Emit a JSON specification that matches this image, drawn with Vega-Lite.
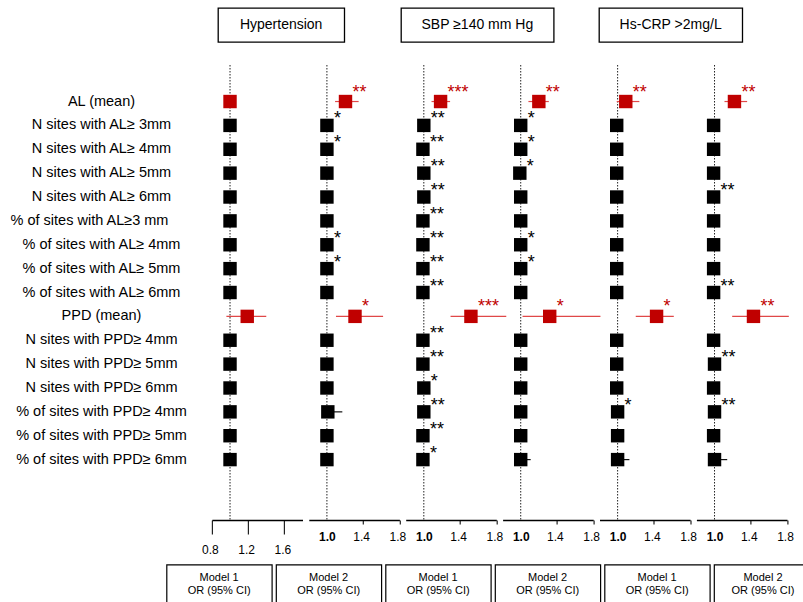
{
  "$schema": "https://vega.github.io/schema/vega-lite/v6.json",
  "padding": {"left": 0, "top": 7, "right": 0, "bottom": 0},
  "background": "white",
  "config": {
    "view": {"stroke": null},
    "font": "Liberation Sans",
    "text": {"font": "Liberation Sans"},
    "axis": {"labelFont": "Liberation Sans", "titleFont": "Liberation Sans"}
  },
  "datasets": {
    "or": [
      {"p":1,"r":"AL (mean)","k":"mean","or":1.0,"lo":0.995,"hi":1.005,"s":""},
      {"p":1,"r":"N sites with AL≥ 3mm","k":"count","or":1.0,"lo":0.99,"hi":1.01,"s":""},
      {"p":1,"r":"N sites with AL≥ 4mm","k":"count","or":1.0,"lo":0.99,"hi":1.01,"s":""},
      {"p":1,"r":"N sites with AL≥ 5mm","k":"count","or":1.0,"lo":0.99,"hi":1.01,"s":""},
      {"p":1,"r":"N sites with AL≥ 6mm","k":"count","or":1.0,"lo":0.99,"hi":1.01,"s":""},
      {"p":1,"r":"% of sites with AL≥3 mm","k":"count","or":1.0,"lo":0.99,"hi":1.01,"s":""},
      {"p":1,"r":"% of sites with AL≥ 4mm","k":"count","or":1.0,"lo":0.99,"hi":1.01,"s":""},
      {"p":1,"r":"% of sites with AL≥ 5mm","k":"count","or":1.0,"lo":0.99,"hi":1.01,"s":""},
      {"p":1,"r":"% of sites with AL≥ 6mm","k":"count","or":1.0,"lo":0.99,"hi":1.01,"s":""},
      {"p":1,"r":"PPD (mean)","k":"mean","or":1.19,"lo":0.96,"hi":1.4,"s":""},
      {"p":1,"r":"N sites with PPD≥ 4mm","k":"count","or":1.0,"lo":0.99,"hi":1.01,"s":""},
      {"p":1,"r":"N sites with PPD≥ 5mm","k":"count","or":1.0,"lo":0.99,"hi":1.01,"s":""},
      {"p":1,"r":"N sites with PPD≥ 6mm","k":"count","or":1.0,"lo":0.99,"hi":1.01,"s":""},
      {"p":1,"r":"% of sites with PPD≥ 4mm","k":"count","or":1.0,"lo":0.99,"hi":1.01,"s":""},
      {"p":1,"r":"% of sites with PPD≥ 5mm","k":"count","or":1.0,"lo":0.99,"hi":1.01,"s":""},
      {"p":1,"r":"% of sites with PPD≥ 6mm","k":"count","or":1.0,"lo":0.99,"hi":1.01,"s":""},

      {"p":2,"r":"AL (mean)","k":"mean","or":1.205,"lo":1.09,"hi":1.35,"s":"**"},
      {"p":2,"r":"N sites with AL≥ 3mm","k":"count","or":1.0,"lo":0.99,"hi":1.01,"s":"*"},
      {"p":2,"r":"N sites with AL≥ 4mm","k":"count","or":1.0,"lo":0.99,"hi":1.01,"s":"*"},
      {"p":2,"r":"N sites with AL≥ 5mm","k":"count","or":1.0,"lo":0.99,"hi":1.01,"s":""},
      {"p":2,"r":"N sites with AL≥ 6mm","k":"count","or":1.0,"lo":0.99,"hi":1.01,"s":""},
      {"p":2,"r":"% of sites with AL≥3 mm","k":"count","or":1.0,"lo":0.99,"hi":1.01,"s":""},
      {"p":2,"r":"% of sites with AL≥ 4mm","k":"count","or":1.0,"lo":0.99,"hi":1.01,"s":"*"},
      {"p":2,"r":"% of sites with AL≥ 5mm","k":"count","or":1.0,"lo":0.99,"hi":1.01,"s":"*"},
      {"p":2,"r":"% of sites with AL≥ 6mm","k":"count","or":1.0,"lo":0.99,"hi":1.01,"s":""},
      {"p":2,"r":"PPD (mean)","k":"mean","or":1.31,"lo":1.1,"hi":1.62,"s":"*"},
      {"p":2,"r":"N sites with PPD≥ 4mm","k":"count","or":1.0,"lo":0.99,"hi":1.01,"s":""},
      {"p":2,"r":"N sites with PPD≥ 5mm","k":"count","or":1.0,"lo":0.99,"hi":1.01,"s":""},
      {"p":2,"r":"N sites with PPD≥ 6mm","k":"count","or":1.0,"lo":0.99,"hi":1.01,"s":""},
      {"p":2,"r":"% of sites with PPD≥ 4mm","k":"count","or":1.01,"lo":0.97,"hi":1.17,"s":""},
      {"p":2,"r":"% of sites with PPD≥ 5mm","k":"count","or":1.0,"lo":0.99,"hi":1.01,"s":""},
      {"p":2,"r":"% of sites with PPD≥ 6mm","k":"count","or":1.0,"lo":0.99,"hi":1.01,"s":""},

      {"p":3,"r":"AL (mean)","k":"mean","or":1.185,"lo":1.085,"hi":1.29,"s":"***"},
      {"p":3,"r":"N sites with AL≥ 3mm","k":"count","or":1.0,"lo":0.99,"hi":1.01,"s":"**"},
      {"p":3,"r":"N sites with AL≥ 4mm","k":"count","or":0.99,"lo":0.98,"hi":1.0,"s":"**"},
      {"p":3,"r":"N sites with AL≥ 5mm","k":"count","or":1.0,"lo":0.99,"hi":1.01,"s":"**"},
      {"p":3,"r":"N sites with AL≥ 6mm","k":"count","or":1.0,"lo":0.99,"hi":1.01,"s":"**"},
      {"p":3,"r":"% of sites with AL≥3 mm","k":"count","or":0.99,"lo":0.98,"hi":1.0,"s":"**"},
      {"p":3,"r":"% of sites with AL≥ 4mm","k":"count","or":0.99,"lo":0.98,"hi":1.0,"s":"**"},
      {"p":3,"r":"% of sites with AL≥ 5mm","k":"count","or":0.99,"lo":0.98,"hi":1.0,"s":"**"},
      {"p":3,"r":"% of sites with AL≥ 6mm","k":"count","or":0.99,"lo":0.98,"hi":1.0,"s":"**"},
      {"p":3,"r":"PPD (mean)","k":"mean","or":1.52,"lo":1.295,"hi":1.91,"s":"***"},
      {"p":3,"r":"N sites with PPD≥ 4mm","k":"count","or":0.99,"lo":0.98,"hi":1.0,"s":"**"},
      {"p":3,"r":"N sites with PPD≥ 5mm","k":"count","or":0.99,"lo":0.98,"hi":1.0,"s":"**"},
      {"p":3,"r":"N sites with PPD≥ 6mm","k":"count","or":1.0,"lo":0.99,"hi":1.01,"s":"*"},
      {"p":3,"r":"% of sites with PPD≥ 4mm","k":"count","or":1.0,"lo":0.99,"hi":1.01,"s":"**"},
      {"p":3,"r":"% of sites with PPD≥ 5mm","k":"count","or":0.99,"lo":0.98,"hi":1.0,"s":"**"},
      {"p":3,"r":"% of sites with PPD≥ 6mm","k":"count","or":0.99,"lo":0.98,"hi":1.0,"s":"*"},

      {"p":4,"r":"AL (mean)","k":"mean","or":1.2,"lo":1.085,"hi":1.31,"s":"**"},
      {"p":4,"r":"N sites with AL≥ 3mm","k":"count","or":1.0,"lo":0.99,"hi":1.01,"s":"*"},
      {"p":4,"r":"N sites with AL≥ 4mm","k":"count","or":1.0,"lo":0.99,"hi":1.01,"s":"*"},
      {"p":4,"r":"N sites with AL≥ 5mm","k":"count","or":0.99,"lo":0.98,"hi":1.0,"s":"*"},
      {"p":4,"r":"N sites with AL≥ 6mm","k":"count","or":1.0,"lo":0.99,"hi":1.01,"s":""},
      {"p":4,"r":"% of sites with AL≥3 mm","k":"count","or":1.0,"lo":0.99,"hi":1.01,"s":""},
      {"p":4,"r":"% of sites with AL≥ 4mm","k":"count","or":1.0,"lo":0.99,"hi":1.01,"s":"*"},
      {"p":4,"r":"% of sites with AL≥ 5mm","k":"count","or":1.0,"lo":0.99,"hi":1.01,"s":"*"},
      {"p":4,"r":"% of sites with AL≥ 6mm","k":"count","or":1.0,"lo":0.99,"hi":1.01,"s":""},
      {"p":4,"r":"PPD (mean)","k":"mean","or":1.32,"lo":1.02,"hi":1.88,"s":"*"},
      {"p":4,"r":"N sites with PPD≥ 4mm","k":"count","or":1.0,"lo":0.99,"hi":1.01,"s":""},
      {"p":4,"r":"N sites with PPD≥ 5mm","k":"count","or":1.0,"lo":0.99,"hi":1.01,"s":""},
      {"p":4,"r":"N sites with PPD≥ 6mm","k":"count","or":1.0,"lo":0.99,"hi":1.01,"s":""},
      {"p":4,"r":"% of sites with PPD≥ 4mm","k":"count","or":1.0,"lo":0.99,"hi":1.01,"s":""},
      {"p":4,"r":"% of sites with PPD≥ 5mm","k":"count","or":1.0,"lo":0.99,"hi":1.01,"s":""},
      {"p":4,"r":"% of sites with PPD≥ 6mm","k":"count","or":1.0,"lo":0.97,"hi":1.11,"s":""},

      {"p":5,"r":"AL (mean)","k":"mean","or":1.09,"lo":0.99,"hi":1.24,"s":"**"},
      {"p":5,"r":"N sites with AL≥ 3mm","k":"count","or":0.99,"lo":0.98,"hi":1.0,"s":""},
      {"p":5,"r":"N sites with AL≥ 4mm","k":"count","or":0.99,"lo":0.98,"hi":1.0,"s":""},
      {"p":5,"r":"N sites with AL≥ 5mm","k":"count","or":0.99,"lo":0.98,"hi":1.0,"s":""},
      {"p":5,"r":"N sites with AL≥ 6mm","k":"count","or":0.99,"lo":0.98,"hi":1.0,"s":""},
      {"p":5,"r":"% of sites with AL≥3 mm","k":"count","or":0.99,"lo":0.98,"hi":1.0,"s":""},
      {"p":5,"r":"% of sites with AL≥ 4mm","k":"count","or":0.99,"lo":0.98,"hi":1.0,"s":""},
      {"p":5,"r":"% of sites with AL≥ 5mm","k":"count","or":0.99,"lo":0.98,"hi":1.0,"s":""},
      {"p":5,"r":"% of sites with AL≥ 6mm","k":"count","or":0.99,"lo":0.98,"hi":1.0,"s":""},
      {"p":5,"r":"PPD (mean)","k":"mean","or":1.43,"lo":1.2,"hi":1.62,"s":"*"},
      {"p":5,"r":"N sites with PPD≥ 4mm","k":"count","or":0.99,"lo":0.98,"hi":1.0,"s":""},
      {"p":5,"r":"N sites with PPD≥ 5mm","k":"count","or":0.99,"lo":0.98,"hi":1.0,"s":""},
      {"p":5,"r":"N sites with PPD≥ 6mm","k":"count","or":0.99,"lo":0.98,"hi":1.0,"s":""},
      {"p":5,"r":"% of sites with PPD≥ 4mm","k":"count","or":1.0,"lo":0.99,"hi":1.01,"s":"*"},
      {"p":5,"r":"% of sites with PPD≥ 5mm","k":"count","or":1.0,"lo":0.99,"hi":1.01,"s":""},
      {"p":5,"r":"% of sites with PPD≥ 6mm","k":"count","or":1.0,"lo":0.96,"hi":1.13,"s":""},

      {"p":6,"r":"AL (mean)","k":"mean","or":1.22,"lo":1.11,"hi":1.36,"s":"**"},
      {"p":6,"r":"N sites with AL≥ 3mm","k":"count","or":0.99,"lo":0.98,"hi":1.0,"s":""},
      {"p":6,"r":"N sites with AL≥ 4mm","k":"count","or":0.99,"lo":0.98,"hi":1.0,"s":""},
      {"p":6,"r":"N sites with AL≥ 5mm","k":"count","or":0.99,"lo":0.98,"hi":1.0,"s":""},
      {"p":6,"r":"N sites with AL≥ 6mm","k":"count","or":0.99,"lo":0.98,"hi":1.0,"s":"**"},
      {"p":6,"r":"% of sites with AL≥3 mm","k":"count","or":0.99,"lo":0.98,"hi":1.0,"s":""},
      {"p":6,"r":"% of sites with AL≥ 4mm","k":"count","or":0.99,"lo":0.98,"hi":1.0,"s":""},
      {"p":6,"r":"% of sites with AL≥ 5mm","k":"count","or":0.99,"lo":0.98,"hi":1.0,"s":""},
      {"p":6,"r":"% of sites with AL≥ 6mm","k":"count","or":0.99,"lo":0.98,"hi":1.0,"s":"**"},
      {"p":6,"r":"PPD (mean)","k":"mean","or":1.43,"lo":1.195,"hi":1.82,"s":"**"},
      {"p":6,"r":"N sites with PPD≥ 4mm","k":"count","or":0.99,"lo":0.98,"hi":1.0,"s":""},
      {"p":6,"r":"N sites with PPD≥ 5mm","k":"count","or":1.0,"lo":0.99,"hi":1.01,"s":"**"},
      {"p":6,"r":"N sites with PPD≥ 6mm","k":"count","or":0.99,"lo":0.98,"hi":1.0,"s":""},
      {"p":6,"r":"% of sites with PPD≥ 4mm","k":"count","or":1.0,"lo":0.99,"hi":1.01,"s":"**"},
      {"p":6,"r":"% of sites with PPD≥ 5mm","k":"count","or":0.99,"lo":0.98,"hi":1.0,"s":""},
      {"p":6,"r":"% of sites with PPD≥ 6mm","k":"count","or":1.0,"lo":0.96,"hi":1.14,"s":""}
    ]
  },
  "vconcat": [
    {
      "spacing": 0,
      "hconcat": [
        {"width": 217, "height": 34, "data": {"values": []}, "mark": "text", "encoding": {}},
        {"width": 126.3, "height": 34, "view": {"stroke": "#000", "strokeWidth": 1.3},
         "data": {"values": [{"t": "Hypertension"}]},
         "mark": {"type": "text", "fontSize": 14, "color": "#000"},
         "encoding": {"text": {"field": "t"}}},
        {"width": 54.7, "height": 34, "data": {"values": []}, "mark": "text", "encoding": {}},
        {"width": 152.7, "height": 34, "view": {"stroke": "#000", "strokeWidth": 1.3},
         "data": {"values": [{"t": "SBP ≥140 mm Hg"}]},
         "mark": {"type": "text", "fontSize": 14, "color": "#000"},
         "encoding": {"text": {"field": "t"}}},
        {"width": 43, "height": 34, "data": {"values": []}, "mark": "text", "encoding": {}},
        {"width": 143.3, "height": 34, "view": {"stroke": "#000", "strokeWidth": 1.3},
         "data": {"values": [{"t": "Hs-CRP >2mg/L"}]},
         "mark": {"type": "text", "fontSize": 14, "color": "#000"},
         "encoding": {"text": {"field": "t"}}}
      ]
    },
    {
      "spacing": 7.6,
      "vconcat": [
        {
          "spacing": 5.9,
          "bounds": "flush",
          "hconcat": [
            {"width": 206, "height": 455, "data": {"name": "or"}, "transform": [{"filter": "datum.p == 1"}],
             "encoding": {
               "y": {"field": "r", "type": "nominal",
                 "scale": {"type": "point", "padding": 0.53, "domain": ["pad-top","AL (mean)","N sites with AL≥ 3mm","N sites with AL≥ 4mm","N sites with AL≥ 5mm","N sites with AL≥ 6mm","% of sites with AL≥3 mm","% of sites with AL≥ 4mm","% of sites with AL≥ 5mm","% of sites with AL≥ 6mm","PPD (mean)","N sites with PPD≥ 4mm","N sites with PPD≥ 5mm","N sites with PPD≥ 6mm","% of sites with PPD≥ 4mm","% of sites with PPD≥ 5mm","% of sites with PPD≥ 6mm","pad-bottom-1","pad-bottom-2"]},
                 "axis": null},
               "text": {"field": "r"}
             },
             "layer": [
               {"transform": [{"filter": "datum.r != '% of sites with AL≥3 mm'"}], "mark": {"type": "text", "fontSize": 14.5, "dx": -1.5, "color": "#000", "align": "center", "baseline": "middle"}},
               {"transform": [{"filter": "datum.r == '% of sites with AL≥3 mm'"}], "mark": {"type": "text", "fontSize": 14.5, "dx": -13.5, "color": "#000", "align": "center", "baseline": "middle"}}
             ]},
            {"width": 90.6, "height": 455, "layer": [
              {"data": {"values": [{}]}, "mark": {"type": "rule", "strokeDash": [1.5, 1.5], "color": "#222", "strokeWidth": 1}, "encoding": {"x": {"datum": 1}}},
              {"data": {"name": "or"}, "transform": [{"filter": "datum.p == 1"}],
               "encoding": {
                 "y": {"field": "r", "type": "nominal",
                   "scale": {"type": "point", "padding": 0.53, "domain": ["pad-top","AL (mean)","N sites with AL≥ 3mm","N sites with AL≥ 4mm","N sites with AL≥ 5mm","N sites with AL≥ 6mm","% of sites with AL≥3 mm","% of sites with AL≥ 4mm","% of sites with AL≥ 5mm","% of sites with AL≥ 6mm","PPD (mean)","N sites with PPD≥ 4mm","N sites with PPD≥ 5mm","N sites with PPD≥ 6mm","% of sites with PPD≥ 4mm","% of sites with PPD≥ 5mm","% of sites with PPD≥ 6mm","pad-bottom-1","pad-bottom-2"]},
                   "axis": null},
                 "x": {"field": "or", "type": "quantitative", "scale": {"domain": [0.8, 1.8], "nice": false, "zero": false},
                   "axis": {"title": null, "values": [0.8, 1, 1.2, 1.4, 1.6, 1.8], "format": ".1f", "grid": false,
                     "domainColor": "#000", "domainWidth": 1.5, "tickColor": "#222", "tickWidth": 1.2,
                     "labelFontSize": 12, "labelColor": "#000", "labelFlush": false, "labelOverlap": false, "labelBound": false,
                     "tickSize": {"condition": {"test": "indexof([0.8,1.2,1.6], datum.value) >= 0", "value": 14}, "value": 4},
                     "tickOpacity": {"condition": {"test": "datum.value == 1", "value": 0}, "value": 1},
                     "labelPadding": {"condition": {"test": "indexof([0.8,1.2,1.6], datum.value) >= 0", "value": 10.4}, "value": 7.4},
                     "labelOffset": {"condition": {"test": "datum.value == 1", "value": 0}, "value": -2},
                     "labelFontWeight": {"condition": {"test": "datum.value == 1", "value": "bold"}, "value": "normal"}}}
               },
               "layer": [
                 {"mark": {"type": "rule", "strokeWidth": 1.2}, "encoding": {"x": {"field": "lo", "type": "quantitative", "title": null}, "x2": {"field": "hi"}, "stroke": {"field": "k", "type": "nominal", "scale": {"domain": ["mean","count"], "range": ["#e04848","#111111"]}, "legend": null}}},
                 {"mark": {"type": "square", "size": 180, "opacity": 1}, "encoding": {"color": {"field": "k", "type": "nominal", "scale": {"domain": ["mean","count"], "range": ["#c00000","#000000"]}, "legend": null}}},
                 {"transform": [{"filter": "datum.s != '' && datum.k == 'count'"}], "mark": {"type": "text", "align": "left", "baseline": "alphabetic", "dx": 7, "dy": -1, "fontSize": 18}, "encoding": {"text": {"field": "s"}, "color": {"field": "k", "type": "nominal", "scale": {"domain": ["mean","count"], "range": ["#c00000","#000000"]}, "legend": null}}},
                 {"transform": [{"filter": "datum.s != '' && datum.k == 'mean'"}], "mark": {"type": "text", "align": "left", "baseline": "alphabetic", "dx": 7, "dy": -4, "fontSize": 18}, "encoding": {"text": {"field": "s"}, "color": {"field": "k", "type": "nominal", "scale": {"domain": ["mean","count"], "range": ["#c00000","#000000"]}, "legend": null}}}
               ]}
            ]},
            {"width": 90.6, "height": 455, "layer": [
              {"data": {"values": [{}]}, "mark": {"type": "rule", "strokeDash": [1.5, 1.5], "color": "#222", "strokeWidth": 1}, "encoding": {"x": {"datum": 1}}},
              {"data": {"name": "or"}, "transform": [{"filter": "datum.p == 2"}],
               "encoding": {
                 "y": {"field": "r", "type": "nominal",
                   "scale": {"type": "point", "padding": 0.53, "domain": ["pad-top","AL (mean)","N sites with AL≥ 3mm","N sites with AL≥ 4mm","N sites with AL≥ 5mm","N sites with AL≥ 6mm","% of sites with AL≥3 mm","% of sites with AL≥ 4mm","% of sites with AL≥ 5mm","% of sites with AL≥ 6mm","PPD (mean)","N sites with PPD≥ 4mm","N sites with PPD≥ 5mm","N sites with PPD≥ 6mm","% of sites with PPD≥ 4mm","% of sites with PPD≥ 5mm","% of sites with PPD≥ 6mm","pad-bottom-1","pad-bottom-2"]},
                   "axis": null},
                 "x": {"field": "or", "type": "quantitative", "scale": {"domain": [0.8, 1.8], "nice": false, "zero": false},
                   "axis": {"title": null, "values": [1, 1.2, 1.4, 1.6, 1.8], "format": ".1f", "grid": false,
                     "domainColor": "#000", "domainWidth": 1.5, "tickColor": "#222", "tickWidth": 1.2,
                     "labelFontSize": 12, "labelColor": "#000", "labelFlush": false, "labelOverlap": false, "labelBound": false,
                     "tickSize": {"condition": {"test": "indexof([0.8,1.2,1.6], datum.value) >= 0", "value": 14}, "value": 4},
                     "tickOpacity": {"condition": {"test": "datum.value == 1", "value": 0}, "value": 1},
                     "labelPadding": {"condition": {"test": "indexof([0.8,1.2,1.6], datum.value) >= 0", "value": 10.4}, "value": 7.4},
                     "labelOffset": {"condition": {"test": "datum.value == 1", "value": 0}, "value": -2},
                     "labelFontWeight": {"condition": {"test": "datum.value == 1", "value": "bold"}, "value": "normal"}}}
               },
               "layer": [
                 {"mark": {"type": "rule", "strokeWidth": 1.2}, "encoding": {"x": {"field": "lo", "type": "quantitative", "title": null}, "x2": {"field": "hi"}, "stroke": {"field": "k", "type": "nominal", "scale": {"domain": ["mean","count"], "range": ["#e04848","#111111"]}, "legend": null}}},
                 {"mark": {"type": "square", "size": 180, "opacity": 1}, "encoding": {"color": {"field": "k", "type": "nominal", "scale": {"domain": ["mean","count"], "range": ["#c00000","#000000"]}, "legend": null}}},
                 {"transform": [{"filter": "datum.s != '' && datum.k == 'count'"}], "mark": {"type": "text", "align": "left", "baseline": "alphabetic", "dx": 7, "dy": -1, "fontSize": 18}, "encoding": {"text": {"field": "s"}, "color": {"field": "k", "type": "nominal", "scale": {"domain": ["mean","count"], "range": ["#c00000","#000000"]}, "legend": null}}},
                 {"transform": [{"filter": "datum.s != '' && datum.k == 'mean'"}], "mark": {"type": "text", "align": "left", "baseline": "alphabetic", "dx": 7, "dy": -4, "fontSize": 18}, "encoding": {"text": {"field": "s"}, "color": {"field": "k", "type": "nominal", "scale": {"domain": ["mean","count"], "range": ["#c00000","#000000"]}, "legend": null}}}
               ]}
            ]},
            {"width": 90.6, "height": 455, "layer": [
              {"data": {"values": [{}]}, "mark": {"type": "rule", "strokeDash": [1.5, 1.5], "color": "#222", "strokeWidth": 1}, "encoding": {"x": {"datum": 1}}},
              {"data": {"name": "or"}, "transform": [{"filter": "datum.p == 3"}],
               "encoding": {
                 "y": {"field": "r", "type": "nominal",
                   "scale": {"type": "point", "padding": 0.53, "domain": ["pad-top","AL (mean)","N sites with AL≥ 3mm","N sites with AL≥ 4mm","N sites with AL≥ 5mm","N sites with AL≥ 6mm","% of sites with AL≥3 mm","% of sites with AL≥ 4mm","% of sites with AL≥ 5mm","% of sites with AL≥ 6mm","PPD (mean)","N sites with PPD≥ 4mm","N sites with PPD≥ 5mm","N sites with PPD≥ 6mm","% of sites with PPD≥ 4mm","% of sites with PPD≥ 5mm","% of sites with PPD≥ 6mm","pad-bottom-1","pad-bottom-2"]},
                   "axis": null},
                 "x": {"field": "or", "type": "quantitative", "scale": {"domain": [0.8, 1.8], "nice": false, "zero": false},
                   "axis": {"title": null, "values": [1, 1.2, 1.4, 1.6, 1.8], "format": ".1f", "grid": false,
                     "domainColor": "#000", "domainWidth": 1.5, "tickColor": "#222", "tickWidth": 1.2,
                     "labelFontSize": 12, "labelColor": "#000", "labelFlush": false, "labelOverlap": false, "labelBound": false,
                     "tickSize": {"condition": {"test": "indexof([0.8,1.2,1.6], datum.value) >= 0", "value": 14}, "value": 4},
                     "tickOpacity": {"condition": {"test": "datum.value == 1", "value": 0}, "value": 1},
                     "labelPadding": {"condition": {"test": "indexof([0.8,1.2,1.6], datum.value) >= 0", "value": 10.4}, "value": 7.4},
                     "labelOffset": {"condition": {"test": "datum.value == 1", "value": 0}, "value": -2},
                     "labelFontWeight": {"condition": {"test": "datum.value == 1", "value": "bold"}, "value": "normal"}}}
               },
               "layer": [
                 {"mark": {"type": "rule", "strokeWidth": 1.2}, "encoding": {"x": {"field": "lo", "type": "quantitative", "title": null}, "x2": {"field": "hi"}, "stroke": {"field": "k", "type": "nominal", "scale": {"domain": ["mean","count"], "range": ["#e04848","#111111"]}, "legend": null}}},
                 {"mark": {"type": "square", "size": 180, "opacity": 1}, "encoding": {"color": {"field": "k", "type": "nominal", "scale": {"domain": ["mean","count"], "range": ["#c00000","#000000"]}, "legend": null}}},
                 {"transform": [{"filter": "datum.s != '' && datum.k == 'count'"}], "mark": {"type": "text", "align": "left", "baseline": "alphabetic", "dx": 7, "dy": -1, "fontSize": 18}, "encoding": {"text": {"field": "s"}, "color": {"field": "k", "type": "nominal", "scale": {"domain": ["mean","count"], "range": ["#c00000","#000000"]}, "legend": null}}},
                 {"transform": [{"filter": "datum.s != '' && datum.k == 'mean'"}], "mark": {"type": "text", "align": "left", "baseline": "alphabetic", "dx": 7, "dy": -4, "fontSize": 18}, "encoding": {"text": {"field": "s"}, "color": {"field": "k", "type": "nominal", "scale": {"domain": ["mean","count"], "range": ["#c00000","#000000"]}, "legend": null}}}
               ]}
            ]},
            {"width": 90.6, "height": 455, "layer": [
              {"data": {"values": [{}]}, "mark": {"type": "rule", "strokeDash": [1.5, 1.5], "color": "#222", "strokeWidth": 1}, "encoding": {"x": {"datum": 1}}},
              {"data": {"name": "or"}, "transform": [{"filter": "datum.p == 4"}],
               "encoding": {
                 "y": {"field": "r", "type": "nominal",
                   "scale": {"type": "point", "padding": 0.53, "domain": ["pad-top","AL (mean)","N sites with AL≥ 3mm","N sites with AL≥ 4mm","N sites with AL≥ 5mm","N sites with AL≥ 6mm","% of sites with AL≥3 mm","% of sites with AL≥ 4mm","% of sites with AL≥ 5mm","% of sites with AL≥ 6mm","PPD (mean)","N sites with PPD≥ 4mm","N sites with PPD≥ 5mm","N sites with PPD≥ 6mm","% of sites with PPD≥ 4mm","% of sites with PPD≥ 5mm","% of sites with PPD≥ 6mm","pad-bottom-1","pad-bottom-2"]},
                   "axis": null},
                 "x": {"field": "or", "type": "quantitative", "scale": {"domain": [0.8, 1.8], "nice": false, "zero": false},
                   "axis": {"title": null, "values": [1, 1.2, 1.4, 1.6, 1.8], "format": ".1f", "grid": false,
                     "domainColor": "#000", "domainWidth": 1.5, "tickColor": "#222", "tickWidth": 1.2,
                     "labelFontSize": 12, "labelColor": "#000", "labelFlush": false, "labelOverlap": false, "labelBound": false,
                     "tickSize": {"condition": {"test": "indexof([0.8,1.2,1.6], datum.value) >= 0", "value": 14}, "value": 4},
                     "tickOpacity": {"condition": {"test": "datum.value == 1", "value": 0}, "value": 1},
                     "labelPadding": {"condition": {"test": "indexof([0.8,1.2,1.6], datum.value) >= 0", "value": 10.4}, "value": 7.4},
                     "labelOffset": {"condition": {"test": "datum.value == 1", "value": 0}, "value": -2},
                     "labelFontWeight": {"condition": {"test": "datum.value == 1", "value": "bold"}, "value": "normal"}}}
               },
               "layer": [
                 {"mark": {"type": "rule", "strokeWidth": 1.2}, "encoding": {"x": {"field": "lo", "type": "quantitative", "title": null}, "x2": {"field": "hi"}, "stroke": {"field": "k", "type": "nominal", "scale": {"domain": ["mean","count"], "range": ["#e04848","#111111"]}, "legend": null}}},
                 {"mark": {"type": "square", "size": 180, "opacity": 1}, "encoding": {"color": {"field": "k", "type": "nominal", "scale": {"domain": ["mean","count"], "range": ["#c00000","#000000"]}, "legend": null}}},
                 {"transform": [{"filter": "datum.s != '' && datum.k == 'count'"}], "mark": {"type": "text", "align": "left", "baseline": "alphabetic", "dx": 7, "dy": -1, "fontSize": 18}, "encoding": {"text": {"field": "s"}, "color": {"field": "k", "type": "nominal", "scale": {"domain": ["mean","count"], "range": ["#c00000","#000000"]}, "legend": null}}},
                 {"transform": [{"filter": "datum.s != '' && datum.k == 'mean'"}], "mark": {"type": "text", "align": "left", "baseline": "alphabetic", "dx": 7, "dy": -4, "fontSize": 18}, "encoding": {"text": {"field": "s"}, "color": {"field": "k", "type": "nominal", "scale": {"domain": ["mean","count"], "range": ["#c00000","#000000"]}, "legend": null}}}
               ]}
            ]},
            {"width": 90.6, "height": 455, "layer": [
              {"data": {"values": [{}]}, "mark": {"type": "rule", "strokeDash": [1.5, 1.5], "color": "#222", "strokeWidth": 1}, "encoding": {"x": {"datum": 1}}},
              {"data": {"name": "or"}, "transform": [{"filter": "datum.p == 5"}],
               "encoding": {
                 "y": {"field": "r", "type": "nominal",
                   "scale": {"type": "point", "padding": 0.53, "domain": ["pad-top","AL (mean)","N sites with AL≥ 3mm","N sites with AL≥ 4mm","N sites with AL≥ 5mm","N sites with AL≥ 6mm","% of sites with AL≥3 mm","% of sites with AL≥ 4mm","% of sites with AL≥ 5mm","% of sites with AL≥ 6mm","PPD (mean)","N sites with PPD≥ 4mm","N sites with PPD≥ 5mm","N sites with PPD≥ 6mm","% of sites with PPD≥ 4mm","% of sites with PPD≥ 5mm","% of sites with PPD≥ 6mm","pad-bottom-1","pad-bottom-2"]},
                   "axis": null},
                 "x": {"field": "or", "type": "quantitative", "scale": {"domain": [0.8, 1.8], "nice": false, "zero": false},
                   "axis": {"title": null, "values": [1, 1.2, 1.4, 1.6, 1.8], "format": ".1f", "grid": false,
                     "domainColor": "#000", "domainWidth": 1.5, "tickColor": "#222", "tickWidth": 1.2,
                     "labelFontSize": 12, "labelColor": "#000", "labelFlush": false, "labelOverlap": false, "labelBound": false,
                     "tickSize": {"condition": {"test": "indexof([0.8,1.2,1.6], datum.value) >= 0", "value": 14}, "value": 4},
                     "tickOpacity": {"condition": {"test": "datum.value == 1", "value": 0}, "value": 1},
                     "labelPadding": {"condition": {"test": "indexof([0.8,1.2,1.6], datum.value) >= 0", "value": 10.4}, "value": 7.4},
                     "labelOffset": {"condition": {"test": "datum.value == 1", "value": 0}, "value": -2},
                     "labelFontWeight": {"condition": {"test": "datum.value == 1", "value": "bold"}, "value": "normal"}}}
               },
               "layer": [
                 {"mark": {"type": "rule", "strokeWidth": 1.2}, "encoding": {"x": {"field": "lo", "type": "quantitative", "title": null}, "x2": {"field": "hi"}, "stroke": {"field": "k", "type": "nominal", "scale": {"domain": ["mean","count"], "range": ["#e04848","#111111"]}, "legend": null}}},
                 {"mark": {"type": "square", "size": 180, "opacity": 1}, "encoding": {"color": {"field": "k", "type": "nominal", "scale": {"domain": ["mean","count"], "range": ["#c00000","#000000"]}, "legend": null}}},
                 {"transform": [{"filter": "datum.s != '' && datum.k == 'count'"}], "mark": {"type": "text", "align": "left", "baseline": "alphabetic", "dx": 7, "dy": -1, "fontSize": 18}, "encoding": {"text": {"field": "s"}, "color": {"field": "k", "type": "nominal", "scale": {"domain": ["mean","count"], "range": ["#c00000","#000000"]}, "legend": null}}},
                 {"transform": [{"filter": "datum.s != '' && datum.k == 'mean'"}], "mark": {"type": "text", "align": "left", "baseline": "alphabetic", "dx": 7, "dy": -4, "fontSize": 18}, "encoding": {"text": {"field": "s"}, "color": {"field": "k", "type": "nominal", "scale": {"domain": ["mean","count"], "range": ["#c00000","#000000"]}, "legend": null}}}
               ]}
            ]},
            {"width": 90.6, "height": 455, "layer": [
              {"data": {"values": [{}]}, "mark": {"type": "rule", "strokeDash": [1.5, 1.5], "color": "#222", "strokeWidth": 1}, "encoding": {"x": {"datum": 1}}},
              {"data": {"name": "or"}, "transform": [{"filter": "datum.p == 6"}],
               "encoding": {
                 "y": {"field": "r", "type": "nominal",
                   "scale": {"type": "point", "padding": 0.53, "domain": ["pad-top","AL (mean)","N sites with AL≥ 3mm","N sites with AL≥ 4mm","N sites with AL≥ 5mm","N sites with AL≥ 6mm","% of sites with AL≥3 mm","% of sites with AL≥ 4mm","% of sites with AL≥ 5mm","% of sites with AL≥ 6mm","PPD (mean)","N sites with PPD≥ 4mm","N sites with PPD≥ 5mm","N sites with PPD≥ 6mm","% of sites with PPD≥ 4mm","% of sites with PPD≥ 5mm","% of sites with PPD≥ 6mm","pad-bottom-1","pad-bottom-2"]},
                   "axis": null},
                 "x": {"field": "or", "type": "quantitative", "scale": {"domain": [0.8, 1.8], "nice": false, "zero": false},
                   "axis": {"title": null, "values": [1, 1.2, 1.4, 1.6, 1.8], "format": ".1f", "grid": false,
                     "domainColor": "#000", "domainWidth": 1.5, "tickColor": "#222", "tickWidth": 1.2,
                     "labelFontSize": 12, "labelColor": "#000", "labelFlush": false, "labelOverlap": false, "labelBound": false,
                     "tickSize": {"condition": {"test": "indexof([0.8,1.2,1.6], datum.value) >= 0", "value": 14}, "value": 4},
                     "tickOpacity": {"condition": {"test": "datum.value == 1", "value": 0}, "value": 1},
                     "labelPadding": {"condition": {"test": "indexof([0.8,1.2,1.6], datum.value) >= 0", "value": 10.4}, "value": 7.4},
                     "labelOffset": {"condition": {"test": "datum.value == 1", "value": 0}, "value": -2},
                     "labelFontWeight": {"condition": {"test": "datum.value == 1", "value": "bold"}, "value": "normal"}}}
               },
               "layer": [
                 {"mark": {"type": "rule", "strokeWidth": 1.2}, "encoding": {"x": {"field": "lo", "type": "quantitative", "title": null}, "x2": {"field": "hi"}, "stroke": {"field": "k", "type": "nominal", "scale": {"domain": ["mean","count"], "range": ["#e04848","#111111"]}, "legend": null}}},
                 {"mark": {"type": "square", "size": 180, "opacity": 1}, "encoding": {"color": {"field": "k", "type": "nominal", "scale": {"domain": ["mean","count"], "range": ["#c00000","#000000"]}, "legend": null}}},
                 {"transform": [{"filter": "datum.s != '' && datum.k == 'count'"}], "mark": {"type": "text", "align": "left", "baseline": "alphabetic", "dx": 7, "dy": -1, "fontSize": 18}, "encoding": {"text": {"field": "s"}, "color": {"field": "k", "type": "nominal", "scale": {"domain": ["mean","count"], "range": ["#c00000","#000000"]}, "legend": null}}},
                 {"transform": [{"filter": "datum.s != '' && datum.k == 'mean'"}], "mark": {"type": "text", "align": "left", "baseline": "alphabetic", "dx": 7, "dy": -4, "fontSize": 18}, "encoding": {"text": {"field": "s"}, "color": {"field": "k", "type": "nominal", "scale": {"domain": ["mean","count"], "range": ["#c00000","#000000"]}, "legend": null}}}
               ]}
            ]}
          ]
        },
        {
          "spacing": 2.5,
          "hconcat": [
            {"width": 162.5, "height": 38.7, "data": {"values": []}, "mark": "text", "encoding": {}},
            {"width": 105.3, "height": 38.7, "view": {"stroke": "#000", "strokeWidth": 1.2}, "data": {"values": [{"t": "Model 1\nOR (95% CI)"}]}, "mark": {"type": "text", "fontSize": 11, "lineBreak": "\n", "lineHeight": 12.5, "dy": -5.5, "color": "#000"}, "encoding": {"text": {"field": "t"}}},
            {"width": 105.3, "height": 38.7, "view": {"stroke": "#000", "strokeWidth": 1.2}, "data": {"values": [{"t": "Model 2\nOR (95% CI)"}]}, "mark": {"type": "text", "fontSize": 11, "lineBreak": "\n", "lineHeight": 12.5, "dy": -5.5, "color": "#000"}, "encoding": {"text": {"field": "t"}}},
            {"width": 105.3, "height": 38.7, "view": {"stroke": "#000", "strokeWidth": 1.2}, "data": {"values": [{"t": "Model 1\nOR (95% CI)"}]}, "mark": {"type": "text", "fontSize": 11, "lineBreak": "\n", "lineHeight": 12.5, "dy": -5.5, "color": "#000"}, "encoding": {"text": {"field": "t"}}},
            {"width": 105.3, "height": 38.7, "view": {"stroke": "#000", "strokeWidth": 1.2}, "data": {"values": [{"t": "Model 2\nOR (95% CI)"}]}, "mark": {"type": "text", "fontSize": 11, "lineBreak": "\n", "lineHeight": 12.5, "dy": -5.5, "color": "#000"}, "encoding": {"text": {"field": "t"}}},
            {"width": 105.3, "height": 38.7, "view": {"stroke": "#000", "strokeWidth": 1.2}, "data": {"values": [{"t": "Model 1\nOR (95% CI)"}]}, "mark": {"type": "text", "fontSize": 11, "lineBreak": "\n", "lineHeight": 12.5, "dy": -5.5, "color": "#000"}, "encoding": {"text": {"field": "t"}}},
            {"width": 98, "height": 38.7, "view": {"stroke": "#000", "strokeWidth": 1.2}, "data": {"values": [{"t": "Model 2\nOR (95% CI)"}]}, "mark": {"type": "text", "fontSize": 11, "lineBreak": "\n", "lineHeight": 12.5, "dy": -5.5, "color": "#000"}, "encoding": {"text": {"field": "t"}}}
          ]
        }
      ]
    }
  ],
  "spacing": 21
}
